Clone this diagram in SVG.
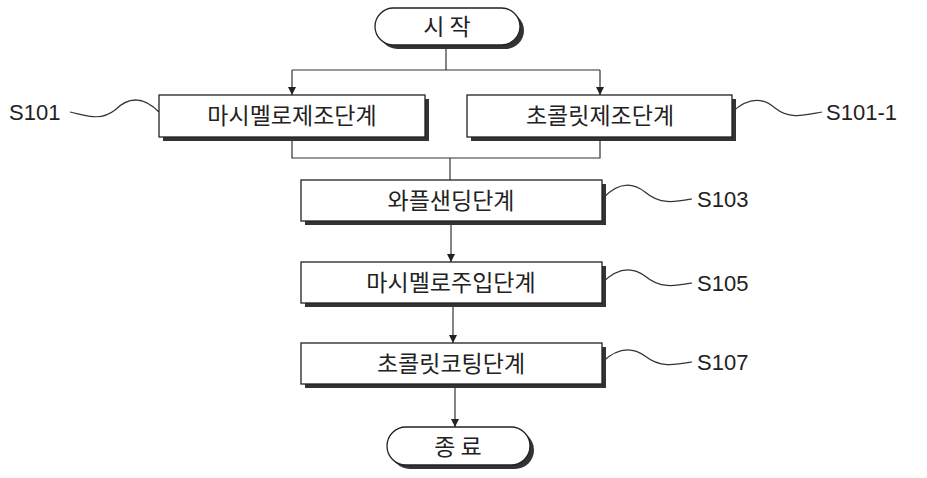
<svg xmlns="http://www.w3.org/2000/svg" width="927" height="478" viewBox="0 0 927 478">
<defs>
<style>
.b{fill:#fff;stroke:#222;stroke-width:1.3}
.s{fill:#333}
.t{font-family:"Noto Sans CJK KR","Noto Sans",sans-serif;font-size:23px;fill:#222;text-anchor:middle}
.l{font-family:"Liberation Sans",Arial,sans-serif;font-size:22px;fill:#222}
.c{fill:none;stroke:#333;stroke-width:1.2}
</style>
<marker id="a" viewBox="0 0 10 10" refX="10" refY="5" markerWidth="8" markerHeight="10" markerUnits="userSpaceOnUse" orient="auto"><path d="M0,0L10,5L0,10z" fill="#222"/></marker>
</defs>
<rect width="927" height="478" fill="#fff"/>
<g id="connectors" class="c">
<path d="M446,45V70"/>
<path d="M292,70H600"/>
<path d="M292,70V95" marker-end="url(#a)"/>
<path d="M600,70V95" marker-end="url(#a)"/>
<path d="M292,137V158H600V137"/>
<path d="M450,158V180"/>
<path d="M451,221V262" marker-end="url(#a)"/>
<path d="M453,303V343" marker-end="url(#a)"/>
<path d="M455,384V427" marker-end="url(#a)"/>
<path d="M70,112C85,115 100,122 115,110C130,95 145,98 159,112"/>
<path d="M732,112C745,100 760,95 775,108C790,120 805,115 822,112"/>
<path d="M602,199C615,185 630,180 645,192C660,205 675,202 692,199"/>
<path d="M602,283C615,270 630,265 645,276C660,289 675,286 692,283"/>
<path d="M602,362C615,350 630,345 645,356C660,368 675,365 692,362"/>
</g>
<g id="start"><rect class="s" x="379" y="12" width="145" height="37" rx="18.5"/><rect class="b" x="375" y="8" width="145" height="37" rx="18.5"/><text class="t" x="447" y="35">시 작</text></g>
<g id="s101"><rect class="s" x="163" y="99" width="266" height="42"/><rect class="b" x="159" y="95" width="266" height="42"/><text class="t" x="292" y="124">마시멜로제조단계</text></g>
<g id="s101-1"><rect class="s" x="471" y="99" width="265" height="42"/><rect class="b" x="467" y="95" width="265" height="42"/><text class="t" x="600" y="124">초콜릿제조단계</text></g>
<g id="s103"><rect class="s" x="305" y="184" width="301" height="41"/><rect class="b" x="301" y="180" width="301" height="41"/><text class="t" x="451" y="209">와플샌딩단계</text></g>
<g id="s105"><rect class="s" x="305" y="266" width="301" height="41"/><rect class="b" x="301" y="262" width="301" height="41"/><text class="t" x="451" y="291">마시멜로주입단계</text></g>
<g id="s107"><rect class="s" x="305" y="347" width="301" height="41"/><rect class="b" x="301" y="343" width="301" height="41"/><text class="t" x="451" y="372">초콜릿코팅단계</text></g>
<g id="end"><rect class="s" x="391" y="431" width="143" height="38" rx="19"/><rect class="b" x="387" y="427" width="143" height="38" rx="19"/><text class="t" x="458" y="455">종 료</text></g>
<g id="labels">
<text class="l" x="9" y="120">S101</text>
<text class="l" x="826" y="120">S101-1</text>
<text class="l" x="697" y="207">S103</text>
<text class="l" x="697" y="291">S105</text>
<text class="l" x="697" y="370">S107</text>
</g>
</svg>
